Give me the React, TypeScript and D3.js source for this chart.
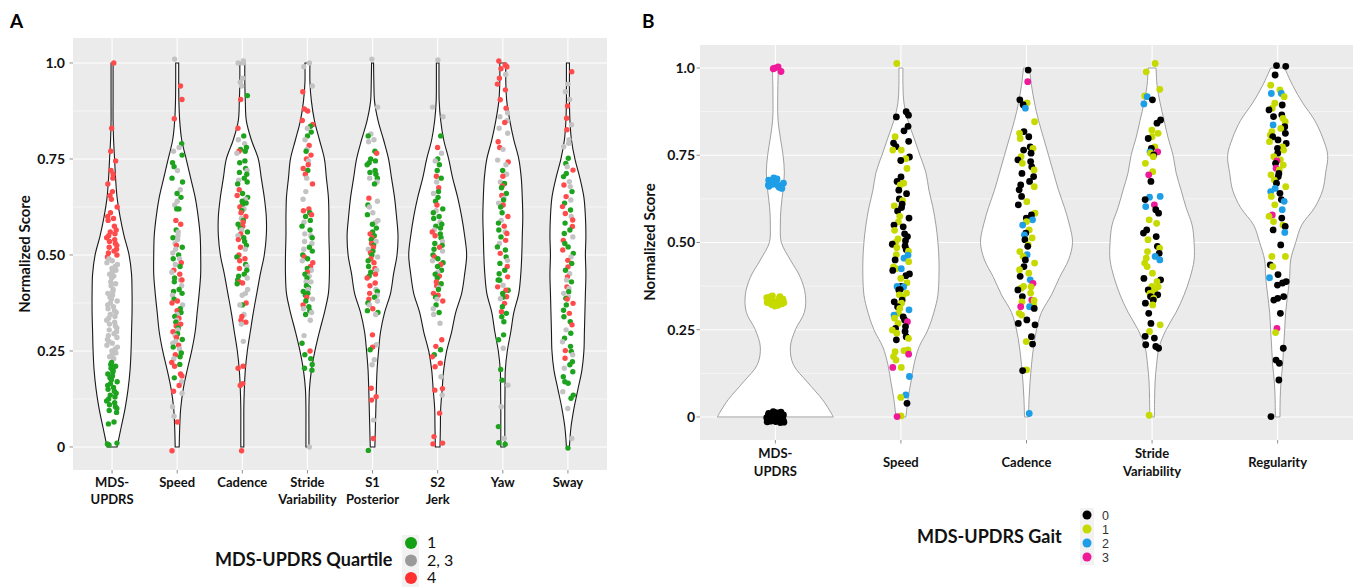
import React from "react";
import * as d3 from "d3";

// ---------- shared ----------
const GRID = [0, 0.05, 0.1, 0.15, 0.2, 0.25, 0.3, 0.35, 0.4, 0.45, 0.5, 0.55, 0.6, 0.65, 0.7, 0.75, 0.8, 0.85, 0.9, 0.95, 1];
const Y_TICKS = [0, 0.25, 0.5, 0.75, 1];
const Y_TICK_LABELS = ["0", "0.25", "0.50", "0.75", "1.0"];
const Y_MINOR = [0.125, 0.375, 0.625, 0.875];
const JITTER = [0.31, -0.72, 0.88, -0.18, 0.52, -0.93, 0.07, -0.47, 0.69, -0.29, 0.81, -0.08, 0.42, -0.84, 0.19, -0.61, 0.97, -0.38, 0.6, 0.01, -0.79, 0.35, -0.24, 0.74, -0.56, 0.14, -0.98, 0.56, -0.13, 0.86, -0.44, 0.26, -0.66, 0.64, -0.33, 0.04, -0.76, 0.47, -0.02, 0.92, -0.52];

// ---------- Panel A ----------
const CATS_A = ["MDS-UPDRS", "Speed", "Cadence", "Stride Variability", "S1 Posterior", "S2 Jerk", "Yaw", "Sway"];
const LABELS_A = [["MDS-", "UPDRS"], ["Speed"], ["Cadence"], ["Stride", "Variability"], ["S1", "Posterior"], ["S2", "Jerk"], ["Yaw"], ["Sway"]];
const GROUPS_A = ["1", "2, 3", "4"];
const COLORS_A = ["#1ea31e", "#c3c3c3", "#ff4b4b"];
const KEY_COLORS_A = ["#14a014", "#9a9a9a", "#ff3030"];

const DENS_A_MDS = [0.5, 0.9, 1.3, 1.6, 1.8, 1.9, 1.95, 2.0, 2.0, 1.95, 1.7, 1.2, 0.8, 0.5, 0.35, 0.25, 0.15, 0.1, 0.1, 0.1, 0.1];
const DENS_A_SPEED = [0.2, 0.25, 0.35, 0.6, 1.0, 1.45, 1.8, 2.0, 2.2, 2.35, 2.35, 2.3, 2.1, 1.8, 1.35, 0.9, 0.45, 0.25, 0.17, 0.15, 0.15];
const DENS_A_CADENCE = [0.15, 0.15, 0.15, 0.2, 0.3, 0.5, 0.8, 1.1, 1.45, 1.8, 2.2, 2.4, 2.4, 2.2, 1.9, 1.6, 0.9, 0.4, 0.3, 0.25, 0.25];
const DENS_A_STRIDE = [0.15, 0.15, 0.15, 0.2, 0.4, 0.75, 1.2, 1.7, 2.1, 2.2, 2.2, 2.15, 2.15, 2.1, 1.9, 1.7, 1.2, 0.7, 0.4, 0.25, 0.25];
const DENS_A_S1 = [0.23, 0.28, 0.33, 0.38, 0.45, 0.6, 0.8, 1.2, 1.8, 2.1, 2.45, 2.55, 2.4, 2.2, 1.9, 1.6, 1.1, 0.55, 0.2, 0.13, 0.1];
const DENS_A_S2 = [0.23, 0.27, 0.3, 0.45, 0.6, 0.9, 1.4, 1.8, 2.4, 2.7, 2.9, 2.7, 2.4, 2.0, 1.5, 1.1, 0.6, 0.3, 0.15, 0.13, 0.13];
const DENS_A_YAW = [0.2, 0.2, 0.2, 0.22, 0.25, 0.45, 0.8, 1.1, 1.6, 1.8, 1.9, 1.95, 2.0, 1.95, 1.85, 1.6, 1.1, 0.7, 0.4, 0.3, 0.3];
const DENS_A_SWAY = [0.15, 0.3, 0.6, 1.0, 1.4, 1.6, 1.65, 1.7, 1.75, 1.8, 1.75, 1.8, 1.75, 1.6, 1.2, 0.7, 0.35, 0.2, 0.15, 0.15, 0.15];

const A_MDS_1 = [0.22, 0.215, 0.21, 0.205, 0.2, 0.195, 0.19, 0.185, 0.18, 0.175, 0.17, 0.165, 0.16, 0.155, 0.15, 0.145, 0.14, 0.135, 0.13, 0.125, 0.12, 0.115, 0.11, 0.105, 0.1, 0.095, 0.09, 0.065, 0.06, 0.01, 0.008, 0.005];
const A_MDS_23 = [0.49, 0.485, 0.48, 0.475, 0.47, 0.465, 0.46, 0.455, 0.45, 0.445, 0.44, 0.43, 0.425, 0.42, 0.41, 0.405, 0.4, 0.395, 0.39, 0.385, 0.38, 0.375, 0.37, 0.365, 0.36, 0.355, 0.35, 0.345, 0.34, 0.335, 0.33, 0.325, 0.32, 0.315, 0.31, 0.305, 0.3, 0.295, 0.29, 0.285, 0.28, 0.275, 0.27, 0.265, 0.26, 0.255, 0.25, 0.245, 0.24, 0.235, 0.23];
const A_MDS_4 = [1.0, 0.83, 0.77, 0.745, 0.72, 0.71, 0.7, 0.685, 0.665, 0.655, 0.645, 0.625, 0.61, 0.6, 0.595, 0.59, 0.575, 0.565, 0.56, 0.555, 0.55, 0.545, 0.54, 0.535, 0.53, 0.525, 0.52, 0.515, 0.51, 0.505, 0.5, 0.495];

const A_SPEED_1 = [0.79, 0.76, 0.74, 0.73, 0.7, 0.69, 0.66, 0.65, 0.62, 0.62, 0.565, 0.545, 0.52, 0.5, 0.49, 0.47, 0.44, 0.43, 0.41, 0.405, 0.4, 0.385, 0.36, 0.35, 0.34, 0.325, 0.31, 0.295, 0.28, 0.26, 0.245, 0.235, 0.215, 0.18];
const A_SPEED_23 = [1.01, 0.78, 0.77, 0.72, 0.67, 0.64, 0.63, 0.56, 0.55, 0.54, 0.53, 0.515, 0.505, 0.49, 0.475, 0.455, 0.435, 0.42, 0.395, 0.37, 0.345, 0.33, 0.305, 0.29, 0.275, 0.27, 0.255, 0.23, 0.17, 0.14, 0.105, 0.08];
const A_SPEED_4 = [0.94, 0.905, 0.855, 0.59, 0.58, 0.525, 0.48, 0.46, 0.45, 0.435, 0.38, 0.375, 0.355, 0.335, 0.32, 0.315, 0.3, 0.285, 0.265, 0.24, 0.22, 0.21, 0.19, 0.185, 0.16, 0.145, 0.065, -0.01];

const A_CAD_1 = [0.915, 0.81, 0.78, 0.775, 0.77, 0.745, 0.74, 0.725, 0.715, 0.71, 0.7, 0.69, 0.685, 0.66, 0.65, 0.64, 0.635, 0.63, 0.615, 0.59, 0.58, 0.57, 0.56, 0.545, 0.535, 0.525, 0.495, 0.475, 0.46, 0.45, 0.445, 0.435, 0.425, 0.37];
const A_CAD_23 = [1.005, 1.0, 1.0, 0.96, 0.95, 0.94, 0.8, 0.79, 0.765, 0.72, 0.695, 0.645, 0.62, 0.595, 0.565, 0.55, 0.515, 0.47, 0.44, 0.41, 0.4, 0.395, 0.37, 0.345, 0.32, 0.275];
const A_CAD_4 = [0.905, 0.83, 0.77, 0.67, 0.655, 0.625, 0.61, 0.6, 0.585, 0.575, 0.555, 0.54, 0.52, 0.5, 0.49, 0.485, 0.465, 0.43, 0.427, 0.375, 0.34, 0.33, 0.325, 0.21, 0.205, 0.165, 0.16, -0.01];

const A_STR_1 = [0.835, 0.82, 0.81, 0.77, 0.72, 0.61, 0.6, 0.59, 0.575, 0.565, 0.545, 0.52, 0.51, 0.5, 0.49, 0.465, 0.45, 0.44, 0.415, 0.42, 0.405, 0.4, 0.395, 0.38, 0.365, 0.355, 0.345, 0.27, 0.24, 0.23, 0.215, 0.205, 0.2];
const A_STR_23 = [1.0, 0.99, 0.94, 0.83, 0.8, 0.775, 0.745, 0.7, 0.665, 0.645, 0.585, 0.555, 0.55, 0.535, 0.53, 0.515, 0.485, 0.46, 0.445, 0.43, 0.43, 0.41, 0.385, 0.36, 0.35, 0.33, 0.29, 0.0];
const A_STR_4 = [0.925, 0.88, 0.875, 0.85, 0.84, 0.785, 0.76, 0.75, 0.735, 0.725, 0.71, 0.685, 0.62, 0.615, 0.605, 0.495, 0.48, 0.47, 0.455, 0.39, 0.37, 0.25];

const A_S1_1 = [0.81, 0.77, 0.75, 0.745, 0.74, 0.735, 0.72, 0.715, 0.71, 0.7, 0.685, 0.63, 0.605, 0.58, 0.57, 0.56, 0.55, 0.54, 0.525, 0.51, 0.5, 0.485, 0.47, 0.455, 0.445, 0.405, 0.39, 0.375, 0.355, 0.35, 0.253, -0.009];
const A_S1_23 = [1.01, 0.885, 0.815, 0.8, 0.795, 0.7, 0.69, 0.64, 0.625, 0.61, 0.59, 0.585, 0.535, 0.515, 0.495, 0.46, 0.41, 0.395, 0.38, 0.37, 0.345, 0.266, 0.227, 0.214, 0.07];
const A_S1_4 = [0.765, 0.648, 0.555, 0.545, 0.53, 0.52, 0.505, 0.49, 0.48, 0.465, 0.45, 0.44, 0.427, 0.42, 0.4, 0.385, 0.36, 0.292, 0.26, 0.153, 0.131, 0.122, 0.022];

const A_S2_1 = [0.81, 0.75, 0.735, 0.72, 0.7, 0.665, 0.65, 0.64, 0.62, 0.61, 0.6, 0.595, 0.58, 0.575, 0.57, 0.555, 0.545, 0.53, 0.525, 0.515, 0.5, 0.49, 0.48, 0.47, 0.46, 0.45, 0.44, 0.425, 0.41, 0.39, 0.37, 0.35, 0.253, 0.24];
const A_S2_23 = [1.008, 0.885, 0.86, 0.765, 0.745, 0.69, 0.66, 0.615, 0.585, 0.565, 0.535, 0.51, 0.485, 0.455, 0.415, 0.385, 0.36, 0.345, 0.322, 0.183, 0.135];
const A_S2_4 = [0.78, 0.705, 0.675, 0.63, 0.56, 0.55, 0.52, 0.495, 0.475, 0.445, 0.43, 0.42, 0.4, 0.395, 0.38, 0.279, 0.262, 0.235, 0.218, 0.209, 0.152, 0.148, 0.088, 0.027, 0.01, 0.008];

const A_YAW_1 = [0.72, 0.686, 0.675, 0.66, 0.643, 0.625, 0.61, 0.583, 0.565, 0.547, 0.521, 0.513, 0.495, 0.478, 0.46, 0.451, 0.434, 0.4, 0.435, 0.408, 0.39, 0.365, 0.348, 0.339, 0.326, 0.292, 0.279, 0.202, 0.174, 0.053, 0.011, 0.007];
const A_YAW_23 = [0.97, 0.87, 0.86, 0.85, 0.83, 0.817, 0.775, 0.747, 0.735, 0.71, 0.69, 0.648, 0.635, 0.59, 0.56, 0.53, 0.486, 0.421, 0.386, 0.257, 0.161, 0.105, 0.022];
const A_YAW_4 = [1.005, 0.995, 0.99, 0.985, 0.96, 0.945, 0.93, 0.904, 0.882, 0.845, 0.795, 0.78, 0.742, 0.705, 0.68, 0.655, 0.63, 0.6, 0.575, 0.556, 0.538, 0.504, 0.47, 0.443, 0.417, 0.408, 0.391, 0.374, 0.352];

const A_SWAY_1 = [0.752, 0.738, 0.712, 0.704, 0.665, 0.635, 0.617, 0.583, 0.565, 0.556, 0.53, 0.521, 0.504, 0.478, 0.46, 0.43, 0.404, 0.387, 0.37, 0.356, 0.339, 0.326, 0.296, 0.283, 0.262, 0.249, 0.222, 0.214, 0.196, 0.183, 0.17, 0.166, 0.135, 0.127, -0.003];
const A_SWAY_23 = [0.945, 0.925, 0.905, 0.839, 0.8, 0.791, 0.782, 0.73, 0.691, 0.678, 0.643, 0.6, 0.547, 0.495, 0.451, 0.391, 0.435, 0.413, 0.4, 0.305, 0.274, 0.24, 0.205, 0.144, 0.1, 0.022];
const A_SWAY_4 = [0.977, 0.888, 0.856, 0.826, 0.721, 0.682, 0.652, 0.626, 0.608, 0.591, 0.574, 0.538, 0.513, 0.486, 0.469, 0.443, 0.417, 0.385, 0.374, 0.348, 0.318, 0.251, 0.231];

// ---------- Panel B ----------
const CATS_B = ["MDS-UPDRS", "Speed", "Cadence", "Stride Variability", "Regularity"];
const LABELS_B = [["MDS-", "UPDRS"], ["Speed"], ["Cadence"], ["Stride", "Variability"], ["Regularity"]];
const GROUPS_B = ["0", "1", "2", "3"];
const COLORS_B = ["#000000", "#c6da00", "#1d9ee6", "#ee1a9a"];

const GRID_B_MDS = [0, 0.02, 0.05, 0.1, 0.15, 0.2, 0.25, 0.3, 0.35, 0.4, 0.45, 0.5, 0.55, 0.6, 0.65, 0.7, 0.75, 0.8, 0.85, 0.9, 0.95, 1];
const DENS_B_MDS = [5.8, 5.4, 4.7, 3.2, 1.8, 1.5, 2.0, 2.9, 3.0, 2.5, 1.5, 0.6, 0.5, 0.57, 0.77, 0.9, 0.77, 0.5, 0.27, 0.23, 0.25, 0.3];
const DENS_B_SPEED = [0.5, 0.7, 1.0, 1.3, 1.8, 2.7, 3.3, 3.7, 3.8, 3.8, 3.7, 3.5, 3.2, 2.8, 2.5, 1.9, 1.3, 0.7, 0.3, 0.2, 0.2];
const DENS_B_CADENCE = [0.2, 0.25, 0.35, 0.5, 0.7, 1.0, 1.5, 2.5, 3.3, 4.2, 4.6, 4.3, 3.8, 3.2, 2.7, 2.2, 1.7, 1.2, 0.8, 0.5, 0.3];
const DENS_B_STRIDE = [0.23, 0.25, 0.3, 0.45, 0.7, 1.4, 2.4, 3.2, 3.8, 4.2, 4.2, 4.0, 3.4, 2.9, 2.4, 2.1, 1.6, 1.2, 0.8, 0.5, 0.4];
const DENS_B_REG = [0.23, 0.25, 0.33, 0.5, 0.6, 0.7, 0.8, 1.0, 1.2, 1.3, 1.8, 2.4, 3.7, 4.5, 4.8, 5.0, 4.5, 3.7, 2.5, 1.5, 0.7];

const B_MDS_0 = [0.012, 0.008, 0.005, 0.002, 0, -0.003, -0.006, -0.01, -0.013, -0.015, 0.01, 0.004, -0.001, -0.008, 0.014, 0.006, -0.004, -0.012, 0.009, 0.001, -0.007, -0.014, 0.011, 0.003, -0.005, -0.011, 0.007, -0.002, 0.013, -0.009, 0.0, -0.016, 0.015, 0.005, -0.006];
const B_MDS_1 = [0.347, 0.345, 0.342, 0.34, 0.338, 0.336, 0.334, 0.332, 0.33, 0.328, 0.326, 0.324, 0.322, 0.32, 0.318, 0.344, 0.339, 0.335, 0.331, 0.327, 0.323, 0.341, 0.329, 0.337, 0.325];
const B_MDS_2 = [0.685, 0.682, 0.679, 0.676, 0.673, 0.67, 0.667, 0.664, 0.661, 0.658, 0.655, 0.68, 0.672, 0.665];
const B_MDS_3 = [1.003, 1.0, 0.998, 0.99];

const B_SPEED_0 = [0.875, 0.865, 0.86, 0.833, 0.82, 0.79, 0.785, 0.775, 0.745, 0.735, 0.688, 0.675, 0.65, 0.64, 0.625, 0.61, 0.6, 0.59, 0.57, 0.55, 0.545, 0.525, 0.517, 0.505, 0.495, 0.49, 0.48, 0.45, 0.42, 0.41, 0.405, 0.374, 0.365, 0.364, 0.335, 0.33, 0.316, 0.287, 0.278, 0.259, 0.254, 0.245, 0.23, 0.221, 0.039];
const B_SPEED_1 = [1.013, 0.803, 0.765, 0.765, 0.74, 0.712, 0.67, 0.665, 0.62, 0.605, 0.575, 0.559, 0.535, 0.51, 0.5, 0.485, 0.475, 0.465, 0.445, 0.43, 0.425, 0.397, 0.385, 0.355, 0.35, 0.345, 0.326, 0.311, 0.297, 0.283, 0.268, 0.249, 0.24, 0.225, 0.192, 0.19, 0.187, 0.173, 0.163, 0.142, 0.056, 0.003];
const B_SPEED_2 = [0.464, 0.455, 0.425, 0.374, 0.373, 0.307, 0.292, 0.116, 0.063];
const B_SPEED_3 = [0.273, 0.18, 0.142, 0.001];

const B_CAD_0 = [0.994, 0.909, 0.895, 0.818, 0.803, 0.774, 0.765, 0.756, 0.737, 0.732, 0.717, 0.698, 0.689, 0.675, 0.665, 0.651, 0.632, 0.608, 0.579, 0.57, 0.527, 0.508, 0.489, 0.45, 0.431, 0.403, 0.364, 0.345, 0.311, 0.278, 0.268, 0.264, 0.23, 0.209, 0.133];
const B_CAD_1 = [0.9, 0.846, 0.813, 0.798, 0.77, 0.746, 0.727, 0.708, 0.66, 0.617, 0.584, 0.56, 0.536, 0.513, 0.493, 0.474, 0.46, 0.441, 0.422, 0.412, 0.374, 0.355, 0.373, 0.369, 0.334, 0.33, 0.321, 0.297, 0.292, 0.216, 0.135];
const B_CAD_2 = [0.885, 0.565, 0.55, 0.522, 0.465, 0.393, 0.316, 0.01];
const B_CAD_3 = [0.961, 0.383, 0.335, 0.316];

const B_STR_0 = [0.909, 0.851, 0.842, 0.798, 0.77, 0.751, 0.675, 0.623, 0.594, 0.584, 0.536, 0.527, 0.517, 0.489, 0.469, 0.397, 0.364, 0.345, 0.393, 0.35, 0.335, 0.326, 0.297, 0.268, 0.231, 0.226, 0.207, 0.202, 0.197];
const B_STR_1 = [1.013, 0.989, 0.939, 0.92, 0.822, 0.813, 0.803, 0.774, 0.756, 0.746, 0.727, 0.703, 0.565, 0.555, 0.508, 0.484, 0.474, 0.455, 0.441, 0.431, 0.412, 0.388, 0.374, 0.355, 0.373, 0.37, 0.364, 0.354, 0.34, 0.321, 0.264, 0.245, 0.005];
const B_STR_2 = [0.918, 0.897, 0.76, 0.632, 0.63, 0.603, 0.46, 0.45];
const B_STR_3 = [0.76, 0.694, 0.608];

const B_REG_0 = [1.007, 1.005, 0.98, 0.894, 0.88, 0.866, 0.861, 0.832, 0.813, 0.803, 0.794, 0.784, 0.77, 0.756, 0.727, 0.698, 0.689, 0.67, 0.641, 0.623, 0.57, 0.546, 0.536, 0.493, 0.436, 0.408, 0.384, 0.345, 0.388, 0.378, 0.34, 0.335, 0.297, 0.197, 0.163, 0.154, 0.106, 0.001];
const B_REG_1 = [0.951, 0.937, 0.918, 0.899, 0.885, 0.856, 0.846, 0.827, 0.818, 0.808, 0.789, 0.774, 0.765, 0.746, 0.737, 0.722, 0.708, 0.694, 0.679, 0.66, 0.632, 0.608, 0.575, 0.56, 0.55, 0.46, 0.46, 0.431, 0.242];
const B_REG_2 = [0.927, 0.927, 0.837, 0.655, 0.646, 0.618, 0.594, 0.529, 0.399];
const B_REG_3 = [0.734, 0.713, 0.579, 0.254];

const FONT = "Lato, 'Open Sans', 'DejaVu Sans', sans-serif";

type PanelProps = {
  cats: string[];
  labels: string[][];
  grids: number[][];
  dens: number[][];
  points: number[][][];
  colors: string[];
  left: number; right: number; top: number; bottom: number;
  yDomain: [number, number];
  densMax: number; densFrac: number; jitterFrac: number;
  r: number; stroke: string; strokeWidth: number;
  tickLabelX: number;
  labelBase: number; labelGap: number; centerSingle: boolean;
};

function Panel(p: PanelProps) {
  const x = d3.scalePoint<string>().domain(p.cats).range([p.left, p.right]).padding(0.6);
  const y = d3.scaleLinear().domain(p.yDomain).range([p.bottom, p.top]);
  const step = x.step();
  const w = d3.scaleLinear().domain([0, p.densMax]).range([0, step * p.densFrac]);
  const jit = step * p.jitterFrac;

  return (
    <g>
      <rect x={p.left} y={p.top} width={p.right - p.left} height={p.bottom - p.top} fill="#ebebeb" />
      {Y_MINOR.map((t) => (
        <line key={"mn" + t} x1={p.left} x2={p.right} y1={y(t)} y2={y(t)} stroke="#ffffff" strokeWidth={0.55} />
      ))}
      {Y_TICKS.map((t) => (
        <line key={"mj" + t} x1={p.left} x2={p.right} y1={y(t)} y2={y(t)} stroke="#ffffff" strokeWidth={1.1} />
      ))}
      {p.cats.map((c) => (
        <line key={"v" + c} x1={x(c)} x2={x(c)} y1={p.top} y2={p.bottom} stroke="#ffffff" strokeWidth={1.1} />
      ))}
      {p.cats.map((c, i) => {
        const cx = x(c) as number;
        const pts = p.grids[i].map((v, k) => [v, p.dens[i][k]] as [number, number]);
        const area = d3
          .area<[number, number]>()
          .y((d) => y(d[0]))
          .x0((d) => cx - w(d[1]))
          .x1((d) => cx + w(d[1]))
          .curve(d3.curveCatmullRom.alpha(0.5));
        return <path key={"vio" + c} d={area(pts) || ""} fill="#ffffff" stroke={p.stroke} strokeWidth={p.strokeWidth} />;
      })}
      {p.cats.map((c, i) => {
        const cx = x(c) as number;
        const all: { v: number; g: number }[] = [];
        p.points[i].forEach((arr, g) => arr.forEach((v) => all.push({ v, g })));
        all.sort((a, b) => b.v - a.v);
        return (
          <g key={"pts" + c}>
            {all.map((d, k) => {
              const j = JITTER[(k * 11 + i * 7) % JITTER.length];
              return <circle key={k} cx={cx + j * jit} cy={y(d.v)} r={p.r} fill={p.colors[d.g]} />;
            })}
          </g>
        );
      })}
      {Y_TICKS.map((t, k) => (
        <g key={"yt" + t}>
          <line x1={p.left - 3.5} x2={p.left} y1={y(t)} y2={y(t)} stroke="#444" strokeWidth={0.6} />
          <text x={p.tickLabelX} y={y(t)} dy="0.35em" textAnchor="end" fontFamily={FONT} fontWeight={700} fontSize={14} fill="#111">
            {Y_TICK_LABELS[k]}
          </text>
        </g>
      ))}
      {p.cats.map((c, i) => {
        const cx = x(c) as number;
        const lines = p.labels[i];
        const base = lines.length === 1 && p.centerSingle ? p.labelBase + p.labelGap / 2 : p.labelBase;
        return (
          <g key={"xl" + c}>
            <line x1={cx} x2={cx} y1={p.bottom} y2={p.bottom + 3.5} stroke="#444" strokeWidth={0.6} />
            {lines.map((ln, li) => (
              <text key={li} x={cx} y={base + li * p.labelGap} textAnchor="middle" fontFamily={FONT} fontWeight={700} fontSize={13} fill="#111">
                {ln}
              </text>
            ))}
          </g>
        );
      })}
    </g>
  );
}

export default function App() {
  const densA = [DENS_A_MDS, DENS_A_SPEED, DENS_A_CADENCE, DENS_A_STRIDE, DENS_A_S1, DENS_A_S2, DENS_A_YAW, DENS_A_SWAY];
  const gridsA = CATS_A.map(() => GRID);
  const pointsA = [
    [A_MDS_1, A_MDS_23, A_MDS_4],
    [A_SPEED_1, A_SPEED_23, A_SPEED_4],
    [A_CAD_1, A_CAD_23, A_CAD_4],
    [A_STR_1, A_STR_23, A_STR_4],
    [A_S1_1, A_S1_23, A_S1_4],
    [A_S2_1, A_S2_23, A_S2_4],
    [A_YAW_1, A_YAW_23, A_YAW_4],
    [A_SWAY_1, A_SWAY_23, A_SWAY_4],
  ];
  const densB = [DENS_B_MDS, DENS_B_SPEED, DENS_B_CADENCE, DENS_B_STRIDE, DENS_B_REG];
  const gridsB = [GRID_B_MDS, GRID, GRID, GRID, GRID];
  const pointsB = [
    [B_MDS_0, B_MDS_1, B_MDS_2, B_MDS_3],
    [B_SPEED_0, B_SPEED_1, B_SPEED_2, B_SPEED_3],
    [B_CAD_0, B_CAD_1, B_CAD_2, B_CAD_3],
    [B_STR_0, B_STR_1, B_STR_2, B_STR_3],
    [B_REG_0, B_REG_1, B_REG_2, B_REG_3],
  ];

  return (
    <svg width={1355} height={587} style={{ position: "absolute", left: 0, top: 0, background: "#ffffff" }}>
      <rect x={0} y={0} width={1355} height={587} fill="#ffffff" />
      <Panel
        cats={CATS_A} labels={LABELS_A} grids={gridsA} dens={densA} points={pointsA} colors={COLORS_A}
        left={73} right={607} top={38} bottom={470} yDomain={[-0.06, 1.065]}
        densMax={3} densFrac={0.46} jitterFrac={0.085} r={2.7} stroke="#1a1a1a" strokeWidth={1.1}
        tickLabelX={65} labelBase={487} labelGap={17} centerSingle={false}
      />
      <Panel
        cats={CATS_B} labels={LABELS_B} grids={gridsB} dens={densB} points={pointsB} colors={COLORS_B}
        left={700} right={1353} top={45} bottom={440} yDomain={[-0.066, 1.066]}
        densMax={6} densFrac={0.478} jitterFrac={0.07} r={3.4} stroke="#8a8a8a" strokeWidth={0.8}
        tickLabelX={695} labelBase={458} labelGap={18} centerSingle={true}
      />

      {/* Panel letters */}
      <text x={10} y={28} fontFamily={FONT} fontWeight={700} fontSize={19} fill="#000">A</text>
      <text x={642} y={28} fontFamily={FONT} fontWeight={700} fontSize={19} fill="#000">B</text>

      {/* Y titles */}
      <text transform="translate(30,254) rotate(-90)" textAnchor="middle" fontFamily={FONT} fontWeight={700} fontSize={15} fill="#111">Normalized Score</text>
      <text transform="translate(655,242) rotate(-90)" textAnchor="middle" fontFamily={FONT} fontWeight={700} fontSize={15} fill="#111">Normalized Score</text>

      {/* Legend A */}
      <text x={215} y={566} fontFamily={FONT} fontWeight={700} fontSize={18} fill="#111">MDS-UPDRS Quartile</text>
      <rect x={402} y={535} width={17} height={52} fill="#f2f2f2" />
      {GROUPS_A.map((g, i) => (
        <g key={"la" + g}>
          <circle cx={411} cy={543 + i * 17.5} r={6} fill={KEY_COLORS_A[i]} />
          <text x={427} y={548 + i * 17.5} fontFamily={FONT} fontSize={16} fill="#111">{g}</text>
        </g>
      ))}

      {/* Legend B */}
      <text x={917} y={543} fontFamily={FONT} fontWeight={700} fontSize={18} fill="#111">MDS-UPDRS Gait</text>
      <rect x={1080} y={508} width={14} height={57} fill="#f2f2f2" />
      {GROUPS_B.map((g, i) => (
        <g key={"lb" + g}>
          <circle cx={1087} cy={515 + i * 14} r={4.5} fill={COLORS_B[i]} />
          <text x={1102} y={515 + i * 14} dy="0.36em" fontFamily="'Liberation Sans', Arial, sans-serif" fontSize={12.5} fill="#333">{g}</text>
        </g>
      ))}
    </svg>
  );
}
